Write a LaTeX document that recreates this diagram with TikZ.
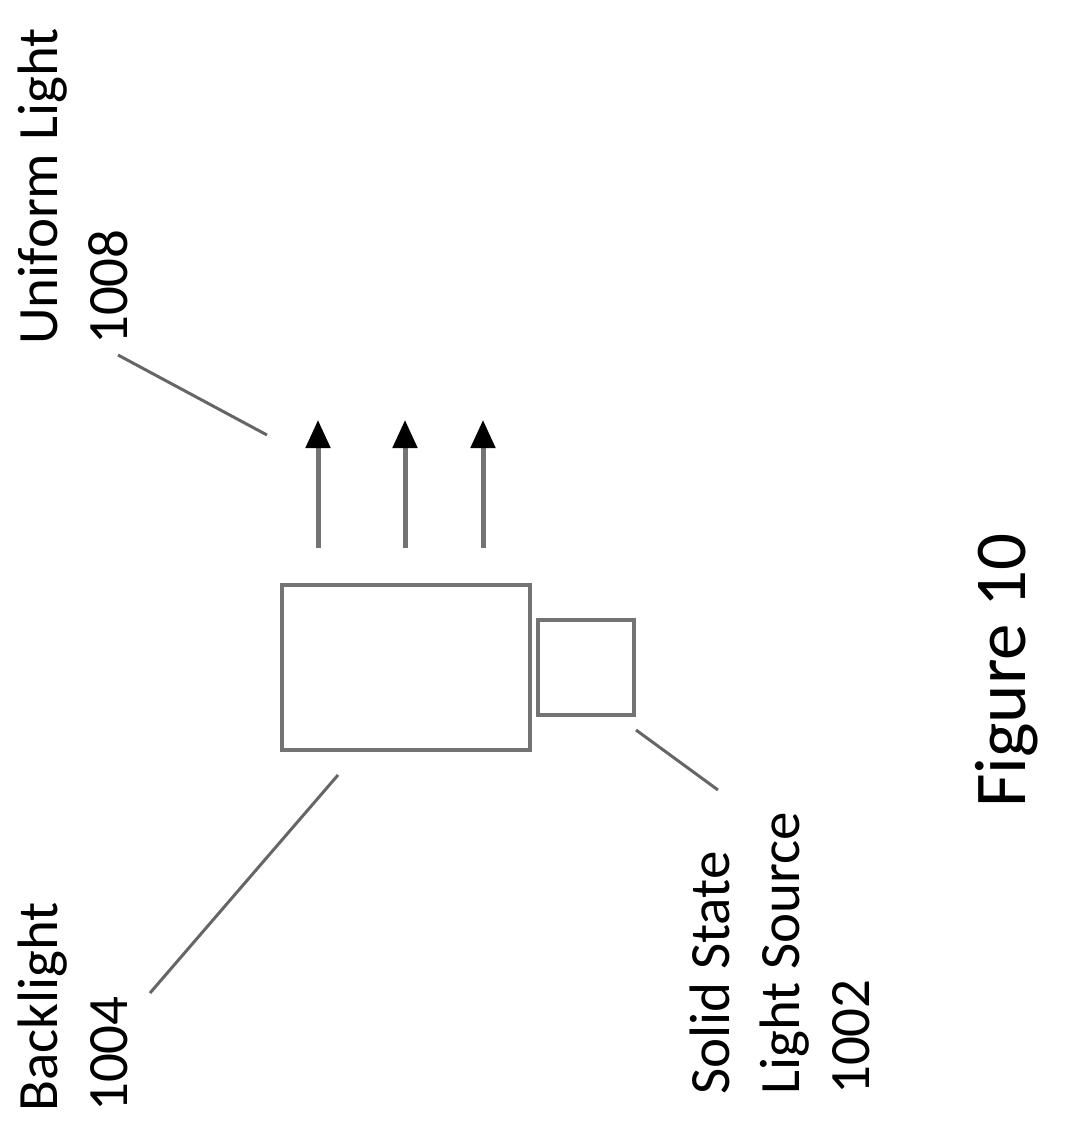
\documentclass[tikz,border=0pt]{standalone}
\usepackage{fontspec}
\setmainfont{Carlito}
\usetikzlibrary{arrows.meta}
\begin{document}
\begin{tikzpicture}[x=1pt,y=-1pt,
  box/.style={draw=black!55,line width=4pt},
  lead/.style={draw=black!60,line width=3pt},
  ray/.style={draw=black!55,line width=5pt,-{Triangle[length=28pt,width=24pt,color=black]}},
  lbl/.style={rotate=90,anchor=north west,align=left,inner sep=0pt,font=\fontsize{57}{70}\selectfont}]
\useasboundingbox (0,0) rectangle (1066,1132);
\node[box,minimum width=248pt,minimum height=165pt,inner sep=0pt] (bl) at (406,667) {};
\node[box,minimum width=96pt,minimum height=95pt,inner sep=0pt] (ss) at (586,667) {};
\coordinate (a1s) at (318,548); \coordinate (a1e) at (318,420);
\coordinate (a2s) at (405,548); \coordinate (a2e) at (405,420);
\coordinate (a3s) at (483,548); \coordinate (a3e) at (483,420);
\draw[ray] (a1s) -- (a1e);
\draw[ray] (a2s) -- (a2e);
\draw[ray] (a3s) -- (a3e);
\node[lbl] (ul) at (18,345) {Uniform Light\\1008};
\node[lbl] (bk) at (18,1112) {Backlight\\1004};
\node[lbl] (sl) at (690,1095) {Solid State\\Light Source\\1002};
\node[rotate=90,anchor=north west,inner sep=0pt,font=\fontsize{73}{80}\selectfont] (fig) at (975,808) {Figure 10};
\coordinate (u1) at (118,355); \coordinate (u2) at (267,435);
\coordinate (b1) at (150,993); \coordinate (b2) at (338,775);
\coordinate (s1) at (636,730); \coordinate (s2) at (718,790);
\draw[lead] (u1) -- (u2);
\draw[lead] (b1) -- (b2);
\draw[lead] (s1) -- (s2);
\end{tikzpicture}
\end{document}
